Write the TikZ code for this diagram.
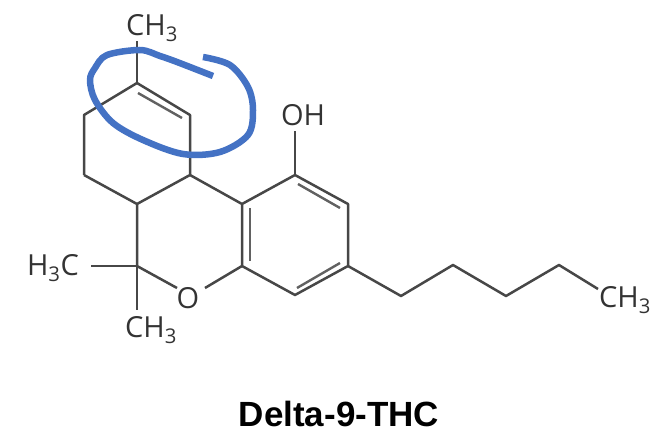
\documentclass[tikz,border=0pt]{standalone}
\usepackage{fontspec}
\setmainfont{Open Sans}
\newfontfamily\titlefont{Liberation Sans}
\usepackage{tikz}
\usetikzlibrary{positioning}

\newcommand{\methyl}{CH\textsubscript{3}}

\begin{document}
\begin{tikzpicture}[x=1pt, y=-1pt,
    atomlabel/.style={inner sep=0pt, text=black!80, font=\fontsize{29}{29}\selectfont},
    bondline/.style={draw=black!72, line width=2.5pt, line join=round},
    innerbond/.style={draw=black!62, line width=2.4pt},
    titlelabel/.style={inner sep=0pt, font=\titlefont\bfseries\fontsize{35}{35}\selectfont},
    scribble/.style={draw=blue_mark, line width=6.5pt, line join=round}]
    \definecolor{blue_mark}{HTML}{4472C4}
    \useasboundingbox (0,0) rectangle (665,441);
    % ring atoms
    \coordinate (c_top) at (137,83);
    \coordinate (c_dbl) at (190,115);
    \coordinate (c_junc) at (190,175);
    \coordinate (c_low) at (137,204);
    \coordinate (c_left) at (84,175);
    \coordinate (c_up) at (84,115);
    \coordinate (c_gem) at (137,266);
    \coordinate (ar_a) at (242,204);
    \coordinate (ar_b) at (295,175);
    \coordinate (ar_c) at (348,204);
    \coordinate (ar_d) at (348,266);
    \coordinate (ar_e) at (295,295);
    \coordinate (ar_f) at (242,266);
    % pentyl chain
    \coordinate (ch_a) at (401,296);
    \coordinate (ch_b) at (453,265);
    \coordinate (ch_c) at (506,296);
    \coordinate (ch_d) at (559,265);
    % labels
    \node[atomlabel] (me_top) at (152,28) {\methyl};
    \node[atomlabel] (me_left) at (53,268) {H\textsubscript{3}C};
    \node[atomlabel] (me_low) at (151,330) {\methyl};
    \node[atomlabel] (oxy) at (188,298) {O};
    \node[atomlabel] (hydroxy) at (303,115) {OH};
    \node[atomlabel] (me_end) at (625,300) {\methyl};
    \node[titlelabel] (title) at (339,414) {Delta-9-THC};
    % free bond ends beside the labels
    \coordinate (e_top) at (137,41);
    \coordinate (e_left) at (91,266);
    \coordinate (e_low) at (137,310);
    \coordinate (e_oa) at (177,288);
    \coordinate (e_ob) at (205,288);
    \coordinate (e_hyd) at (295,131);
    \coordinate (e_end) at (598,289);
    % inner lines of the double bonds
    \coordinate (d_a1) at (138,93);
    \coordinate (d_a2) at (182,118);
    \coordinate (d_b1) at (250,208);
    \coordinate (d_b2) at (250,261);
    \coordinate (d_c1) at (298,184);
    \coordinate (d_c2) at (340,208);
    \coordinate (d_d1) at (340,263);
    \coordinate (d_d2) at (297,288);
    % bonds
    \draw[bondline] (c_left) -- (c_up) -- (c_top) -- (c_dbl) -- (c_junc) -- (c_low) -- (c_left);
    \draw[bondline] (c_low) -- (c_gem) -- (e_oa);
    \draw[bondline] (c_junc) -- (ar_a) -- (ar_b) -- (ar_c) -- (ar_d) -- (ar_e) -- (ar_f) -- (ar_a);
    \draw[bondline] (ar_f) -- (e_ob);
    \draw[bondline] (ar_b) -- (e_hyd);
    \draw[bondline] (ar_d) -- (ch_a) -- (ch_b) -- (ch_c) -- (ch_d) -- (e_end);
    \draw[bondline] (c_top) -- (e_top);
    \draw[bondline] (e_left) -- (c_gem) -- (e_low);
    \draw[innerbond] (d_a1) -- (d_a2);
    \draw[innerbond] (d_b1) -- (d_b2);
    \draw[innerbond] (d_c1) -- (d_c2);
    \draw[innerbond] (d_d1) -- (d_d2);
    % hand drawn ring
    \draw[scribble] plot[smooth, tension=0.55] coordinates {(213,76) (177,62) (160,56) (140,50) (107,55) (95,68) (90,80) (95,100) (113,123) (143,140) (183,154) (220,152) (248,135) (253,110) (248,87) (230,65) (203,57)};
\end{tikzpicture}
\end{document}
